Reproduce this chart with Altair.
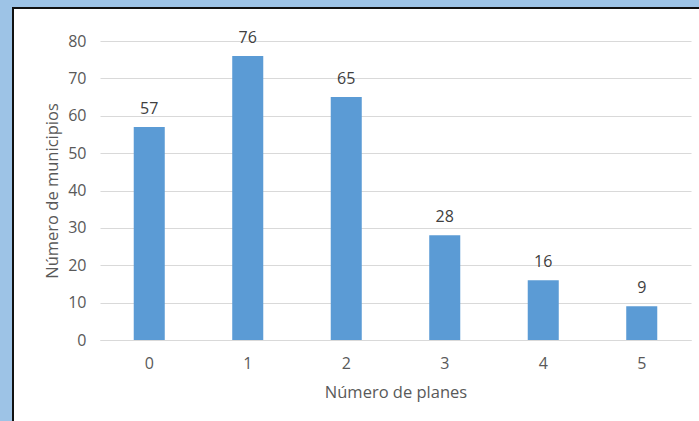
import altair as alt
import pandas as pd

# Number of municipalities by number of plans
planes = ["0", "1", "2", "3", "4", "5"]
municipios = [57, 76, 65, 28, 16, 9]

df = pd.DataFrame({"planes": planes, "municipios": municipios})

FONT = "Open Sans"
FS = 16
TITLE_FS = 16.5
BAR = "#5b9bd5"
GRID = "#d9d9d9"
FRAME_BLUE = "#9dc3e6"

x_enc = alt.X(
    "planes:N",
    sort=planes,
    scale=alt.Scale(paddingInner=0.685, paddingOuter=0.3425),
    axis=alt.Axis(
        title="Número de planes",
        labelAngle=0,
        ticks=False,
        tickSize=0,
        domainColor=GRID,
        domainWidth=1,
        labelBaseline="alphabetic",
        labelPadding=28,
        labelColor="#595959",
        labelFontSize=FS,
        labelFont=FONT,
        titleFont=FONT,
        titleFontSize=TITLE_FS,
        titleFontWeight="normal",
        titleColor="#595959",
        titleBaseline="alphabetic",
        titleY=57,
    ),
)

y_enc = alt.Y(
    "municipios:Q",
    scale=alt.Scale(domain=[0, 80], nice=False),
    axis=alt.Axis(
        title="Número de municipios",
        values=list(range(0, 81, 10)),
        labelOverlap=False,
        ticks=False,
        tickSize=0,
        domain=False,
        grid=True,
        gridColor=GRID,
        gridWidth=1,
        labelPadding=14,
        labelColor="#595959",
        labelFontSize=FS,
        labelFont=FONT,
        titleFont=FONT,
        titleFontSize=TITLE_FS,
        titleFontWeight="normal",
        titleColor="#595959",
        titleAngle=270,
        titleBaseline="alphabetic",
        titleX=-43,
        titleY=149.5,
        titleAlign="center",
    ),
)

bars = alt.Chart(df).mark_bar(color=BAR).encode(x=x_enc, y=y_enc)

labels = alt.Chart(df).mark_text(
    baseline="alphabetic", dy=-13, font=FONT, fontSize=FS, color="#404040"
).encode(x=x_enc, y=y_enc, text="municipios:Q")

# window frame: light-blue strips and dark border on the left and top edges
frame_src = alt.Data(values=[{}])
left_strip = alt.Chart(frame_src).mark_rect(color=FRAME_BLUE).encode(
    x=alt.value(-100), x2=alt.value(-88), y=alt.value(-41), y2=alt.value(380)
)
top_strip = alt.Chart(frame_src).mark_rect(color=FRAME_BLUE).encode(
    x=alt.value(-100), x2=alt.value(599), y=alt.value(-41), y2=alt.value(-34)
)
left_edge = alt.Chart(frame_src).mark_rect(color="#111111").encode(
    x=alt.value(-88), x2=alt.value(-86), y=alt.value(-34), y2=alt.value(380)
)
top_edge = alt.Chart(frame_src).mark_rect(color="#111111").encode(
    x=alt.value(-88), x2=alt.value(599), y=alt.value(-34), y2=alt.value(-32)
)

chart = (
    alt.layer(bars, labels, left_strip, top_strip, left_edge, top_edge)
    .properties(
        width=591,
        height=299,
        padding={"left": 100, "top": 41, "right": 8, "bottom": 81},
        autosize=alt.AutoSizeParams(type="none"),
        background="white",
    )
    .configure_view(stroke=None)
)

chart.save("out.html", embed_options={"renderer": "svg", "actions": False})
